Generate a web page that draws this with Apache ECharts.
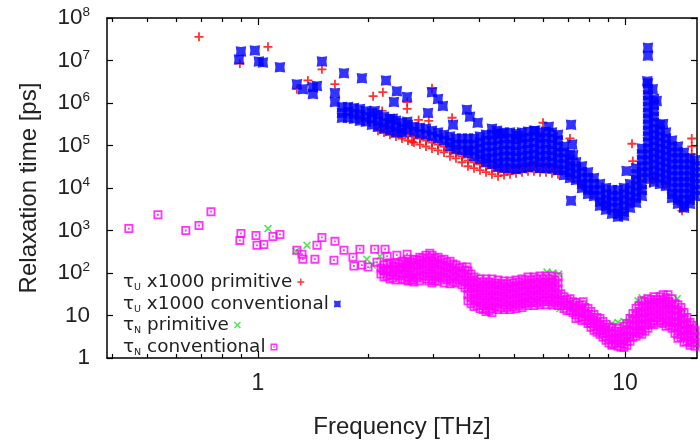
<!DOCTYPE html>
<html>
<head>
<meta charset="utf-8">
<script src="https://cdn.jsdelivr.net/npm/echarts@6/dist/echarts.min.js"></script>
<style>html,body{margin:0;padding:0;background:#fff}#c{width:700px;height:444px}</style>
</head>
<body>
<div id="c"></div>
<script>
// ---------- axis ranges & tick labels ----------
const xMin = 0.388, xMax = 15.71;
const yMin = 1, yMax = 1e8;
const xMajorTicks = [1, 10];
const xMinorTicks = [0.4, 0.5, 0.6, 0.7, 0.8, 0.9, 2, 3, 4, 5, 6, 7, 8, 9];
const xTitle = 'Frequency [THz]';
const yTitle = 'Relaxation time [ps]';
const seriesNames = ['τU x1000 primitive', 'τU x1000 conventional', 'τN primitive', 'τN conventional'];

// ---------- tau_U x1000, conventional (blue) ----------
// dense band: [frequency, tau, tau, ...]
const tauUConvBand = [
  [1.694, 8.07e5, 5.85e5, 4.48e5],
  [1.759, 8.07e5, 6.2e5, 4.48e5],
  [1.827, 7.65e5, 5.55e5, 4.24e5],
  [1.896, 7.25e5, 5.26e5, 3.81e5],
  [1.969, 6.51e5, 4.72e5, 3.6e5],
  [2.045, 5.85e5, 4.24e5, 3.08e5],
  [2.123, 5.26e5, 3.81e5, 2.77e5],
  [2.205, 4.72e5, 3.43e5, 2.48e5],
  [2.289, 4.24e5, 3.08e5, 2.23e5],
  [2.377, 3.81e5, 2.77e5, 2.01e5],
  [2.468, 3.43e5, 2.48e5, 2.01e5],
  [2.563, 3.08e5, 2.35e5],
  [2.661, 2.77e5, 2.12e5],
  [2.763, 2.62e5, 1.9e5],
  [2.870, 2.48e5, 1.8e5],
  [2.980, 2.23e5, 1.62e5],
  [3.094, 2.01e5, 1.46e5],
  [3.213, 1.8e5, 1.31e5],
  [3.336, 1.62e5, 1.17e5, 9.48e4],
  [3.464, 1.46e5, 1.05e5, 8.07e4],
  [3.597, 1.46e5, 1.05e5, 7.65e4],
  [3.735, 1.46e5, 1.05e5, 7.65e4, 6.51e4],
  [3.878, 1.46e5, 1.05e5, 7.65e4, 5.55e4],
  [4.027, 1.62e5, 1.17e5, 8.52e4, 6.18e4, 4.73e4],
  [4.182, 1.8e5, 1.31e5, 9.48e4, 6.87e4, 4.99e4, 4.03e4],
  [4.342, 1.8e5, 1.31e5, 9.48e4, 6.87e4, 4.99e4, 3.62e4],
  [4.509, 1.9e5, 1.38e5, 1.0e5, 7.25e4, 5.26e4, 3.81e4, 3.08e4],
  [4.682, 2.01e5, 1.46e5, 1.05e5, 7.65e4, 5.55e4, 4.03e4, 2.92e4],
  [4.861, 2.01e5, 1.46e5, 1.05e5, 7.65e4, 5.55e4, 4.03e4, 2.92e4],
  [5.047, 1.9e5, 1.38e5, 1.0e5, 7.25e4, 5.26e4, 3.81e4, 2.77e4],
  [5.241, 2.01e5, 1.46e5, 1.05e5, 7.65e4, 5.55e4, 4.03e4, 2.92e4],
  [5.442, 2.12e5, 1.54e5, 1.11e5, 8.07e4, 5.85e4, 4.24e4, 3.08e4],
  [5.649, 2.23e5, 1.62e5, 1.17e5, 8.52e4, 6.18e4, 4.48e4, 3.25e4],
  [5.867, 2.01e5, 1.46e5, 1.05e5, 7.65e4, 5.55e4, 4.03e4, 2.92e4],
  [6.091, 2.12e5, 1.54e5, 1.11e5, 8.07e4, 5.85e4, 4.24e4, 2.92e4],
  [6.325, 2.01e5, 1.46e5, 1.05e5, 7.65e4, 5.55e4, 4.03e4, 2.92e4],
  [6.568, 1.8e5, 1.31e5, 9.48e4, 6.87e4, 4.99e4, 3.62e4, 2.62e4],
  [6.820, 9.48e4, 6.87e4, 4.99e4, 3.62e4, 2.62e4, 2.01e4],
  [7.082, 6.18e4, 4.48e4, 3.25e4, 2.36e4, 1.71e4],
  [7.354, 4.03e4, 2.92e4, 2.12e4, 1.54e4],
  [7.635, 3.25e4, 2.36e4, 1.71e4, 1.24e4, 1.0e4],
  [7.929, 2.36e4, 1.71e4, 1.24e4, 8.98e3, 7.25e3],
  [8.232, 1.71e4, 1.24e4, 8.98e3, 6.51e3],
  [8.548, 1.24e4, 8.98e3, 6.51e3, 4.72e3, 3.81e3],
  [8.876, 1.0e4, 7.25e3, 5.26e3, 3.81e3, 3.08e3],
  [9.218, 8.98e3, 6.51e3, 4.72e3, 3.43e3, 2.48e3],
  [9.570, 8.98e3, 6.51e3, 4.72e3, 3.43e3, 2.48e3, 2.12e3],
  [9.938, 1.0e4, 7.25e3, 5.26e3, 3.81e3, 2.77e3, 2.23e3],
  [10.32, 1.24e4, 8.98e3, 6.51e3, 4.72e3, 3.43e3],
  [10.72, 2.92e4, 2.12e4, 1.54e4, 1.11e4, 8.07e3, 5.85e3, 4.48e3],
  [11.12, 8.52e4, 6.18e4, 4.48e4, 3.25e4, 2.36e4, 1.71e4, 1.24e4, 8.98e3, 6.51e3],
  [11.55, 2.92e6, 2.12e6, 1.53e6, 1.11e6, 8.07e5, 5.85e5, 4.24e5, 3.08e5, 2.23e5, 1.62e5, 1.17e5, 8.52e4, 6.18e4, 4.48e4, 3.25e4, 2.36e4, 1.71e4],
  [11.99, 1.24e6, 8.98e5, 6.51e5, 4.72e5, 3.43e5, 2.48e5, 1.8e5, 1.31e5, 9.48e4, 6.87e4, 4.99e4, 3.62e4, 2.62e4, 1.9e4, 1.38e4],
  [12.45, 3.08e5, 2.23e5, 1.62e5, 1.17e5, 8.52e4, 6.18e4, 4.48e4, 3.25e4, 2.36e4, 1.71e4, 1.24e4],
  [12.93, 2.01e5, 1.46e5, 1.05e5, 7.65e4, 5.55e4, 4.03e4, 2.92e4, 2.12e4, 1.54e4, 1.11e4],
  [13.43, 1.31e5, 9.48e4, 6.87e4, 4.99e4, 3.62e4, 2.62e4, 1.9e4, 1.38e4, 1.0e4, 7.25e3, 5.85e3],
  [13.94, 9.48e4, 6.87e4, 4.99e4, 3.62e4, 2.62e4, 1.9e4, 1.38e4, 1.0e4, 7.25e3, 5.26e3, 4.24e3],
  [14.48, 6.87e4, 4.99e4, 3.62e4, 2.62e4, 1.9e4, 1.38e4, 1.0e4, 7.25e3, 5.26e3, 3.81e3, 3.43e3],
  [15.03, 4.99e4, 3.62e4, 2.62e4, 1.9e4, 1.38e4, 1.0e4, 7.25e3, 5.26e3, 4.24e3],
  [15.51, 4.48e4, 3.25e4, 2.36e4, 1.71e4, 1.24e4, 8.98e3, 6.51e3]
];
const tauUConvSparse = [
  [0.899, 1.62e7], [0.888, 1.05e7], [0.981, 1.71e7], [1.006, 9.5e6], [1.032, 9.0e6], [1.148, 6.9e6],
  [1.277, 2.77e6], [1.326, 2.12e6], [1.412, 2.35e6], [1.448, 2.5e6], [1.412, 1.62e6], [1.494, 9.5e6],
  [1.621, 1.71e6], [1.621, 1.05e6], [1.715, 5.0e6], [1.920, 3.8e6], [2.233, 3.4e6], [2.391, 1.9e6],
  [2.549, 1.38e6], [2.347, 1.05e6], [2.98, 1.8e6], [3.094, 1.24e6], [3.19, 8.5e5], [2.906, 5.85e5],
  [3.71, 6.9e5], [3.78, 4.72e5], [3.97, 3.43e5], [3.40, 3.08e5], [4.34, 2.48e5], [4.48, 2.23e5],
  [4.62, 1.9e5], [5.11, 1.7e5], [5.69, 2.23e5], [6.2, 2.77e5], [7.13, 3.08e5], [7.18, 1.05e5],
  [7.22, 5.9e4], [7.13, 5.0e3], [10.1, 2.5e4], [11.55, 2.0e7], [11.55, 1.3e7], [11.5, 3.25e6],
  [11.9, 2.12e6], [12.2, 1.11e6], [12.7, 3.2e5], [2.08, 6.5e5], [2.33, 4.24e5], [2.55, 3.6e5]
];

// ---------- tau_U x1000, primitive (red) ----------
const tauUPrimBand = [
  [2.123, 3.08e5, 2.23e5], [2.205, 2.77e5, 2.01e5], [2.289, 2.48e5, 1.8e5], [2.377, 2.23e5, 1.62e5],
  [2.468, 2.01e5, 1.46e5], [2.563, 1.8e5, 1.31e5], [2.661, 1.62e5, 1.17e5], [2.763, 1.46e5, 1.05e5],
  [2.870, 1.31e5, 9.48e4], [2.980, 1.17e5, 8.52e4], [3.094, 1.05e5, 7.65e4], [3.213, 9.48e4, 6.87e4],
  [3.336, 7.65e4, 5.55e4], [3.464, 6.87e4, 4.99e4], [3.597, 5.55e4, 4.03e4], [3.735, 4.48e4, 3.25e4],
  [3.878, 4.03e4, 2.92e4], [4.027, 3.62e4, 2.62e4], [4.182, 3.25e4, 2.36e4], [4.342, 2.92e4, 2.12e4],
  [4.509, 2.62e4, 1.9e4], [4.682, 2.62e4, 2.01e4], [4.861, 2.92e4, 2.12e4], [5.047, 2.92e4, 2.23e4],
  [5.241, 3.25e4, 2.36e4], [5.442, 3.25e4, 2.48e4], [5.649, 3.43e4, 2.48e4], [5.867, 3.25e4, 2.36e4],
  [6.091, 3.25e4, 2.36e4], [6.325, 3.08e4, 2.23e4], [6.568, 2.92e4, 2.12e4],
  [7.082, 1.9e4], [7.635, 1.11e4], [8.232, 7.25e3], [8.876, 4.24e3], [9.570, 2.77e3], [10.32, 4.24e3],
  [11.12, 1.0e4], [11.99, 1.71e4], [12.93, 1.24e4], [13.94, 4.72e3], [15.03, 5.85e3]
];
const tauUPrimSparse = [
  [0.691, 3.6e7], [1.065, 2.1e7], [0.893, 8.5e6], [1.494, 6.2e6], [1.368, 3.4e6], [1.277, 2.12e6],
  [1.621, 2.77e6], [2.06, 1.45e6], [2.19, 1.8e6], [2.18, 6.5e5], [2.55, 7.25e5], [2.55, 1.05e6],
  [1.896, 4.24e5], [2.02, 3.6e5], [2.47, 1.71e5], [2.63, 1.24e5], [2.74, 4.0e5], [2.92, 3.8e5],
  [2.98, 2.23e6], [3.38, 4.5e5], [5.98, 3.43e5], [5.87, 1.62e5], [6.25, 1.7e5], [6.52, 1.62e5],
  [6.65, 7.65e4], [7.08, 1.46e5], [7.08, 3.4e4], [7.44, 1.45e4], [10.45, 1.1e5], [10.5, 4.3e4],
  [15.2, 1.46e5], [15.2, 9.5e4], [15.2, 6.2e4], [11.7, 1.3e4], [14.3, 2.9e3]
];

// ---------- tau_N, conventional (magenta) ----------
const tauNConvBand = [
  [2.205, 154, 111, 80.7],
  [2.289, 171, 124, 89.8, 72.5],
  [2.377, 171, 124, 89.8, 68.7],
  [2.468, 190, 138, 100, 72.5],
  [2.563, 212, 154, 111, 80.7, 65.1],
  [2.661, 212, 154, 111, 80.7, 61.7],
  [2.763, 236, 171, 124, 89.8, 65.1],
  [2.870, 262, 190, 138, 100, 72.5],
  [2.980, 262, 190, 138, 100, 72.5, 58.5],
  [3.094, 236, 171, 124, 89.8, 65.1],
  [3.213, 212, 154, 111, 80.7, 58.5],
  [3.336, 190, 138, 100, 72.5, 55.5],
  [3.464, 154, 111, 80.7, 58.5],
  [3.597, 138, 100, 72.5, 52.6],
  [3.735, 111, 80.7, 58.5, 42.4, 30.8, 22.3],
  [3.878, 80.7, 58.5, 42.4, 30.8, 22.3, 16.2],
  [4.027, 72.5, 52.6, 38.1, 27.7, 20.1, 14.6],
  [4.182, 72.5, 52.6, 38.1, 27.7, 20.1, 14.6, 12.4],
  [4.342, 72.5, 52.6, 38.1, 27.7, 20.1, 14.6, 11.7],
  [4.509, 68.7, 49.9, 36.2, 26.2, 19.0, 13.8],
  [4.682, 65.1, 47.2, 34.3, 24.8, 18.0, 13.8],
  [4.861, 65.1, 47.2, 34.3, 24.8, 18.0, 13.8],
  [5.047, 68.7, 49.9, 36.2, 26.2, 19.0, 14.6],
  [5.241, 72.5, 52.6, 38.1, 27.7, 20.1, 15.4],
  [5.442, 80.7, 58.5, 42.4, 30.8, 22.3, 17.1],
  [5.649, 80.7, 58.5, 42.4, 30.8, 22.3, 17.1],
  [5.867, 85.2, 61.7, 44.8, 32.5, 23.6, 18.0],
  [6.091, 85.2, 61.7, 44.8, 32.5, 23.6, 18.0],
  [6.325, 85.2, 61.7, 44.8, 32.5, 23.6, 18.0],
  [6.568, 80.7, 58.5, 42.4, 30.8, 22.3, 17.1],
  [6.820, 27.7, 20.1, 14.6],
  [7.082, 24.8, 18.0, 13.1],
  [7.354, 20.1, 14.6, 10.5, 8.52],
  [7.635, 18.0, 13.1, 9.48, 7.65],
  [7.929, 14.6, 10.5, 7.65, 6.51],
  [8.232, 10.5, 7.65, 5.55, 4.48],
  [8.548, 8.52, 6.18, 4.48, 3.62],
  [8.876, 6.18, 4.48, 3.25, 2.62],
  [9.218, 5.26, 3.81, 2.77, 2.0],
  [9.570, 4.99, 3.62, 2.62, 1.9],
  [9.938, 5.55, 4.03, 2.92, 2.12, 1.8],
  [10.32, 8.52, 6.18, 4.48, 3.25, 2.48],
  [10.72, 14.6, 10.5, 7.65, 5.55, 4.03, 3.25],
  [11.12, 22.3, 16.2, 11.7, 8.52, 6.18, 4.48, 3.62],
  [11.55, 24.8, 18.0, 13.1, 9.48, 6.87, 4.99],
  [11.99, 27.7, 20.1, 14.6, 10.5, 7.65, 6.18],
  [12.45, 27.7, 20.1, 14.6, 10.5, 7.65],
  [12.93, 26.2, 19.0, 13.8, 9.97, 7.25, 5.55],
  [13.43, 24.8, 18.0, 13.1, 9.48, 6.87, 4.99],
  [13.94, 18.0, 13.1, 9.48, 6.87, 4.99, 3.62, 2.92],
  [14.48, 11.7, 8.52, 6.18, 4.48, 3.25, 2.36],
  [15.03, 6.87, 4.99, 3.62, 2.62, 2.0],
  [15.51, 4.48, 3.25, 2.36, 1.9]
];
// points read between the columns above (the band is densely filled)
const tauNConvBand2 = [
  [2.164, 131, 94.8],
  [2.247, 162, 117, 85.1],
  [2.333, 146, 105, 76.5],
  [2.422, 162, 117, 85.1],
  [2.515, 180, 131, 94.8, 68.7],
  [2.611, 180, 131, 94.8, 68.7],
  [2.711, 201, 146, 105, 76.5],
  [2.815, 224, 162, 117, 85.1],
  [2.924, 224, 162, 117, 85.1, 65.1],
  [3.036, 224, 162, 117, 85.1, 65.1],
  [3.153, 201, 146, 105, 76.5],
  [3.273, 180, 131, 94.8, 68.7],
  [3.399, 162, 117, 85.1, 61.7],
  [3.530, 131, 94.8, 68.7],
  [3.665, 117, 85.1, 61.7, 44.8],
  [3.806, 94.8, 68.7, 49.9, 36.2, 26.2, 19.0],
  [3.952, 61.7, 44.8, 32.5, 23.6, 17.1],
  [4.104, 61.7, 44.8, 32.5, 23.6, 17.1, 13.8],
  [4.261, 61.7, 44.8, 32.5, 23.6, 17.1, 13.1],
  [4.425, 58.5, 42.4, 30.8, 22.3, 16.2],
  [4.595, 55.5, 40.2, 29.2, 21.2, 15.4],
  [4.771, 55.5, 40.2, 29.2, 21.2, 15.4],
  [4.954, 58.5, 42.4, 30.8, 22.3, 16.2],
  [5.144, 61.7, 44.8, 32.5, 23.6, 17.1],
  [5.341, 68.7, 49.9, 36.2, 26.2, 19.0],
  [5.546, 68.7, 49.9, 36.2, 26.2, 20.1],
  [5.758, 72.5, 52.6, 38.1, 27.7, 20.1],
  [5.979, 72.5, 52.6, 38.1, 27.7, 21.2],
  [6.208, 72.5, 52.6, 38.1, 27.7, 21.2],
  [6.446, 68.7, 49.9, 36.2, 26.2, 20.1],
  [6.693, 32.5, 23.6, 17.1],
  [6.950, 23.6, 17.1, 13.1],
  [7.216, 21.2, 15.4, 11.7],
  [7.493, 17.1, 12.4, 8.99],
  [7.780, 15.4, 11.1, 8.07],
  [8.079, 12.4, 8.99, 6.51, 5.26],
  [8.388, 8.99, 6.51, 4.73, 4.03],
  [8.710, 7.25, 5.26, 3.81, 3.08],
  [9.044, 5.26, 3.81, 2.77, 2.24],
  [9.391, 4.25, 3.08, 2.24],
  [9.751, 4.25, 3.08, 2.24, 1.8],
  [10.12, 6.51, 4.73, 3.43, 2.48, 2.0],
  [10.51, 11.1, 8.07, 5.86, 4.25, 3.08],
  [10.92, 17.1, 12.4, 8.99, 6.51, 4.73, 3.81],
  [11.34, 21.2, 15.4, 11.1, 8.07, 5.86, 4.25],
  [11.77, 23.6, 17.1, 12.4, 8.99, 6.51],
  [12.22, 23.6, 17.1, 12.4, 8.99, 6.87],
  [12.69, 23.6, 17.1, 12.4, 8.99, 6.51],
  [13.18, 21.2, 15.4, 11.1, 8.07, 5.86],
  [13.68, 19.0, 13.8, 9.97, 7.25, 5.26, 3.81],
  [14.21, 15.4, 11.1, 8.07, 5.86, 4.25, 3.08],
  [14.75, 8.99, 6.51, 4.73, 3.43, 2.48],
  [15.21, 5.86, 4.25, 3.08, 2.24]
];
const tauNConvSparse = [
  [0.445, 1110], [0.534, 2350], [0.636, 1000], [0.691, 1310], [0.745, 2770], [0.899, 852],
  [0.893, 585], [0.988, 765], [0.994, 448], [1.038, 470], [1.099, 725], [1.148, 807],
  [1.277, 343], [1.318, 277], [1.326, 212], [1.43, 212], [1.448, 448], [1.494, 687],
  [1.621, 555], [1.611, 200], [1.715, 343], [1.815, 236], [1.896, 362], [1.826, 146],
  [1.92, 154], [1.995, 138], [2.08, 362], [2.22, 362], [2.25, 249], [2.11, 180],
  [2.19, 118], [2.36, 138], [2.39, 262], [2.55, 277], [2.55, 162], [2.76, 200],
  [2.94, 292], [3.0, 162], [2.56, 80.7], [2.64, 68.7], [3.71, 138], [7.69, 21.2],
  [9.22, 2.12], [12.7, 30.8], [13.1, 30.8]
];

// ---------- tau_N, primitive (green) ----------
const tauNPrimBand = [
  [2.205, 111], [2.377, 100], [2.563, 124], [2.763, 138], [2.980, 111], [3.094, 89.8, 68.7],
  [3.213, 100], [3.464, 80.7], [3.735, 65.1], [3.95, 80.7], [4.027, 34.3], [4.342, 27.7],
  [4.682, 30.8], [5.047, 34.3], [5.442, 38.1], [5.867, 42.4], [6.13, 105], [6.36, 100, 16.2],
  [6.6, 95], [6.65, 14.6], [7.082, 20.1], [7.635, 11.7], [8.232, 6.87], [8.876, 4.99],
  [9.218, 6.51], [9.570, 6.87], [9.938, 7.25], [10.32, 9.0], [10.85, 22.3], [11.12, 26.2],
  [11.99, 20.1], [12.93, 16.2], [13.88, 24.8], [14.48, 9.48], [15.03, 5.55]
];
const tauNPrimSparse = [
  [1.065, 1110], [1.36, 448], [1.27, 325], [1.98, 212], [2.15, 249], [2.05, 154], [2.48, 124]
];

// ---------- build series data ----------
function expand(cols) {
  const out = [];
  cols.forEach(function (c) { for (let i = 1; i < c.length; i++) out.push([c[0], c[i]]); });
  return out;
}
const dataUPrim = expand(tauUPrimBand).concat(tauUPrimSparse);
const dataUConv = expand(tauUConvBand).concat(tauUConvSparse);
const dataNPrim = expand(tauNPrimBand).concat(tauNPrimSparse);
const dataNConv = expand(tauNConvBand).concat(expand(tauNConvBand2), tauNConvSparse);

const PLUS = 'path://M4,0H6V4H10V6H6V10H4V6H0V4H4Z';
const CROSS = 'path://M1.4,0L5,3.6L8.6,0L10,1.4L6.4,5L10,8.6L8.6,10L5,6.4L1.4,10L0,8.6L3.6,5L0,1.4Z';
const STAR = 'path://M0,0L5,0.7L10,0L9.3,5L10,10L5,9.3L0,10L0.7,5Z';
const BOXDOT = 'path://M0,0H10V10H0Z M2,2V8H8V2Z M4,4H6V6H4Z';

const FONT = 'Liberation Sans';
const lg = Math.log10;

const lineStyle = { color: '#000', width: 1.5 };
function decoX(position, ticks, len, showLine, showLabels) {
  return {
    type: 'value', position: position, min: lg(xMin), max: lg(xMax), gridIndex: 0,
    axisLine: { show: showLine, onZero: false, lineStyle: lineStyle },
    axisTick: { show: true, inside: true, length: len, customValues: ticks.map(lg), lineStyle: { color: '#000', width: 1.2 } },
    axisLabel: {
      show: showLabels, customValues: ticks.map(lg), margin: 14,
      fontSize: 23, fontFamily: FONT, color: '#222',
      formatter: function (v) { return String(Math.round(Math.pow(10, v))); }
    },
    splitLine: { show: false }
  };
}

const legendRowsTop = [273, 295, 316, 338];
const legends = seriesNames.map(function (name, i) {
  return {
    data: [name],
    orient: 'vertical', align: 'right',
    left: 123, top: legendRowsTop[i], padding: 0,
    itemWidth: 7, itemHeight: 7, itemGap: 0,
    selectedMode: false,
    formatter: function (n) {
      return '{t|' + n.charAt(0) + '}{s|' + n.charAt(1) + '}{t|' + n.slice(2) + '}';
    },
    textStyle: {
      rich: {
        t: { fontSize: 18.4, fontFamily: 'DejaVu Sans', color: '#222', lineHeight: 22 },
        s: { fontSize: 9.5, fontFamily: 'DejaVu Sans', color: '#222', lineHeight: 10, verticalAlign: 'bottom' }
      }
    }
  };
});

const chart = echarts.init(document.getElementById('c'), null, { renderer: 'canvas' });
chart.setOption({
  animation: false,
  backgroundColor: '#fff',
  grid: { left: 107, right: 3, top: 18, bottom: 82 },
  legend: legends,
  xAxis: [
    { type: 'log', logBase: 10, min: xMin, max: xMax, show: false, axisLine: { onZero: false } },
    Object.assign(decoX('bottom', xMajorTicks, 7, true, true), {
      name: xTitle, nameLocation: 'middle', nameGap: 57,
      nameTextStyle: { fontSize: 24, fontFamily: FONT, color: '#222' }
    }),
    decoX('bottom', xMinorTicks, 4, false, false),
    decoX('top', xMajorTicks, 7, true, false),
    decoX('top', xMinorTicks, 4, false, false)
  ],
  yAxis: [
    {
      type: 'log', logBase: 10, min: yMin, max: yMax, position: 'left',
      name: yTitle, nameLocation: 'middle', nameGap: 66,
      nameTextStyle: { fontSize: 24, fontFamily: FONT, color: '#222' },
      axisLine: { show: true, onZero: false, lineStyle: lineStyle },
      axisTick: { show: true, inside: true, length: 6, lineStyle: { color: '#000', width: 1.2 } },
      minorTick: { show: false },
      splitLine: { show: false },
      axisLabel: {
        margin: 17,
        formatter: function (v) {
          const e = Math.round(Math.log10(v));
          if (e === 0) return '{n|1}';
          if (e === 1) return '{n|10}';
          return '{n|10}{p|' + e + '}';
        },
        rich: {
          n: { fontSize: 22.5, fontFamily: FONT, color: '#222', lineHeight: 25 },
          p: { fontSize: 13.5, fontFamily: FONT, color: '#222', lineHeight: 12, verticalAlign: 'top' }
        }
      }
    },
    {
      type: 'log', logBase: 10, min: yMin, max: yMax, position: 'right',
      axisLine: { show: true, onZero: false, lineStyle: lineStyle },
      axisTick: { show: true, inside: true, length: 6, lineStyle: { color: '#000', width: 1.2 } },
      axisLabel: { show: false },
      splitLine: { show: false }
    }
  ],
  series: [
    { name: seriesNames[0], type: 'scatter', xAxisIndex: 0, yAxisIndex: 0, symbol: PLUS, symbolSize: 9,
      itemStyle: { color: '#ff0000' }, data: dataUPrim, silent: true },
    { name: seriesNames[1], type: 'scatter', xAxisIndex: 0, yAxisIndex: 0, symbol: STAR, symbolSize: 10.5,
      itemStyle: { color: '#0000ff' }, data: dataUConv, silent: true },
    { name: seriesNames[2], type: 'scatter', xAxisIndex: 0, yAxisIndex: 0, symbol: CROSS, symbolSize: 8,
      itemStyle: { color: '#22e022' }, data: dataNPrim, silent: true },
    { name: seriesNames[3], type: 'scatter', xAxisIndex: 0, yAxisIndex: 0, symbol: BOXDOT, symbolSize: 9,
      itemStyle: { color: '#ff00ff' }, data: dataNConv, silent: true }
  ]
});
</script>
</body>
</html>
